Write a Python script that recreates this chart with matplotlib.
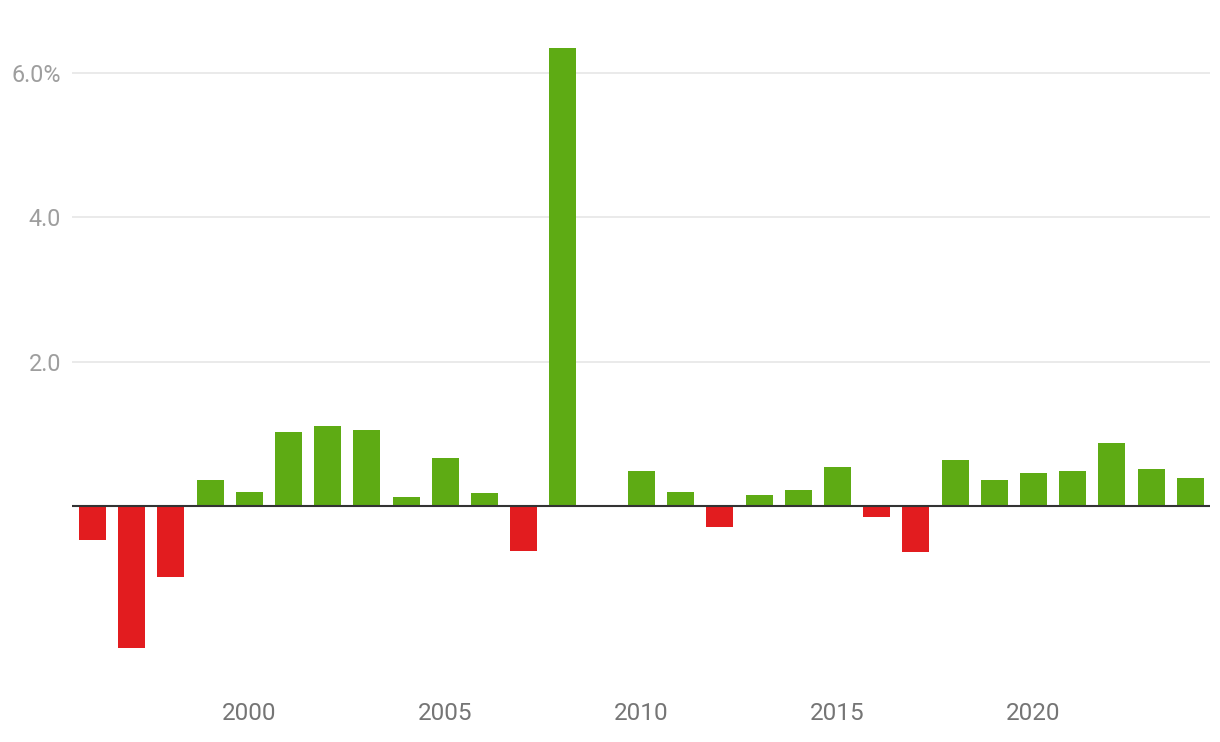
import numpy as np
import matplotlib.pyplot as plt

plt.rcParams['font.family'] = ['Roboto', 'DejaVu Sans']

# Data (annual change, %)
years = list(range(1996, 2025))
values = [-0.47, -1.96, -0.97, 0.37, 0.20, 1.03, 1.11, 1.06, 0.13, 0.67,
          0.19, -0.62, 6.34, 0.0, 0.49, 0.20, -0.28, 0.16, 0.23, 0.55,
          -0.15, -0.63, 0.64, 0.37, 0.46, 0.49, 0.88, 0.52, 0.39]
ytick_vals = [2, 4, 6]
ytick_labels = ['2.0', '4.0', '6.0%']
xtick_vals = [2000, 2005, 2010, 2015, 2020]

green = '#5eab14'
red = '#e21c1f'
colors = [green if v >= 0 else red for v in values]

fig = plt.figure(figsize=(12.2, 7.42), dpi=100)
ax = fig.add_axes([72 / 1220, 52 / 742, (1210 - 72) / 1220, (690 - 30) / 742])

ax.bar(years, values, width=0.69, color=colors, zorder=3)

ax.set_xlim(1995.48, 2024.5)
ax.set_ylim(-2.54, 6.59)

for y in ytick_vals:
    ax.axhline(y, color='#e4e4e4', linewidth=1.1, zorder=1)
ax.axhline(0, color='#333333', linewidth=1.5, zorder=4)

ax.set_yticks(ytick_vals)
ax.set_yticklabels(ytick_labels)
ax.set_xticks(xtick_vals)
ax.set_xticklabels([str(x) for x in xtick_vals])

ax.tick_params(axis='y', length=0, pad=8, labelsize=16.8, labelcolor='#9e9e9e')
ax.tick_params(axis='x', length=0, pad=9, labelsize=17.5, labelcolor='#757575')

for s in ax.spines.values():
    s.set_visible(False)

fig.savefig('out.png', dpi=100)
